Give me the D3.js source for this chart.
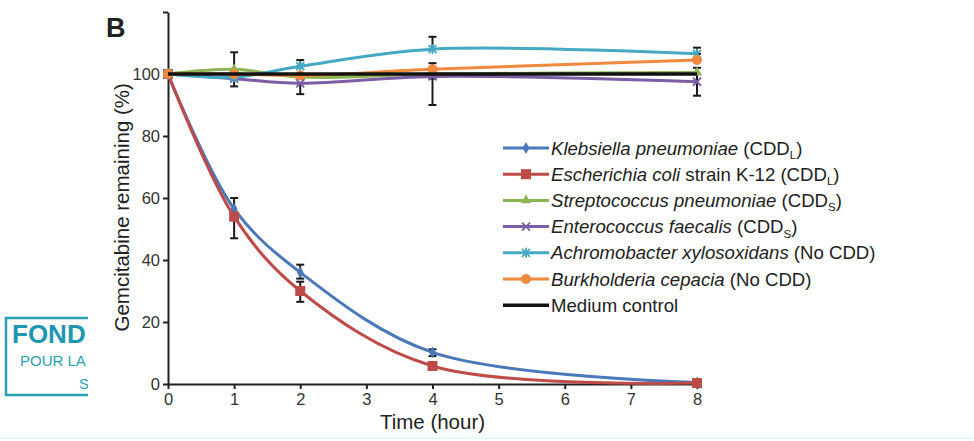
<!DOCTYPE html>
<html>
<head>
<meta charset="utf-8">
<script src="https://cdn.jsdelivr.net/npm/d3@7"></script>
<style>
  body { margin: 0; background: #fff; }
  svg { font-family: "Liberation Sans", Arial, sans-serif; }
</style>
</head>
<body>
<div id="chart"></div>
<script>
// Time points (hours)
const times = [0, 1, 2, 4, 8];

// Gemcitabine remaining (%) per strain, one value per time point
const klebsiella = [100, 56.5, 36, 10.2, 0.5];
const ecoli = [100, 54, 30, 5.8, 0.3];
const strepto = [100, 101.5, 99, 100, 100.5];
const entero = [100, 98.5, 97, 99.2, 97.5];
const achromo = [100, 99, 102.5, 108, 106.5];
const burkho = [100, 100, 99.5, 101.5, 104.5];
const medium = [100, 100, 100, 100, 100];

// Error bars: [time, low, high]
const errorBars = [
    [1, 53, 60], [1, 47, 54],
    [2, 34, 38.5], [2, 26.5, 33],
    [4, 9, 11.2],
    [1, 101.5, 107], [1, 96, 100],
    [2, 102.5, 104.5], [2, 93.5, 97],
    [4, 108, 112], [4, 90, 98.5], [4, 99, 103.5],
    [8, 106.5, 108.5], [8, 93, 100], [8, 100, 102]
];

const xTicks = [0, 1, 2, 3, 4, 5, 6, 7, 8];
const yTicks = [0, 20, 40, 60, 80, 100];

const series = [
    {name: "Klebsiella pneumoniae", rest: " (CDD", sub: "L", tail: ")", values: klebsiella, color: "#4a78b8", marker: "diamond"},
    {name: "Escherichia coli", rest: " strain K-12 (CDD", sub: "L", tail: ")", values: ecoli, color: "#be4b48", marker: "square"},
    {name: "Streptococcus pneumoniae", rest: " (CDD", sub: "S", tail: ")", values: strepto, color: "#8db556", marker: "triangle"},
    {name: "Enterococcus faecalis", rest: " (CDD", sub: "S", tail: ")", values: entero, color: "#7b5ea3", marker: "cross"},
    {name: "Achromobacter xylosoxidans", rest: " (No CDD)", sub: "", tail: "", values: achromo, color: "#45a9c4", marker: "star"},
    {name: "Burkholderia cepacia", rest: " (No CDD)", sub: "", tail: "", values: burkho, color: "#f0883e", marker: "circle"},
    {name: "", rest: "Medium control", sub: "", tail: "", values: medium, color: "#111", marker: "none"}
];

const width = 974, height = 441;
const svg = d3.select("#chart").append("svg")
    .attr("width", width)
    .attr("height", height);

// Cropped logo on the left edge
const logo = svg.append("g");
logo.append("rect")
    .attr("x", 6).attr("y", 318).attr("width", 120).attr("height", 77)
    .attr("fill", "none").attr("stroke", "#2b9fb6").attr("stroke-width", 2.5);
logo.append("text").attr("x", 12).attr("y", 343)
    .attr("font-size", 26).attr("font-weight", "bold").attr("fill", "#1f96b2").text("FOND");
logo.append("text").attr("x", 20).attr("y", 366)
    .attr("font-size", 15).attr("fill", "#2b9fb6").text("POUR LA");
logo.append("text").attr("x", 79).attr("y", 389)
    .attr("font-size", 15).attr("fill", "#2b9fb6").text("S");
svg.append("rect").attr("x", 88).attr("y", 300).attr("width", 80).attr("height", 110).attr("fill", "#fff");

// faint strip at the bottom
svg.append("rect").attr("x", 0).attr("y", 437).attr("width", width).attr("height", 2).attr("fill", "#e3f8f8");

const xScale = d3.scaleLinear().domain([0, 8]).range([168, 697]);
const yScale = d3.scaleLinear().domain([0, 120]).range([384, 12]);

// Axes
const xAxis = svg.append("g")
    .attr("transform", "translate(0," + yScale(0) + ")")
    .call(d3.axisBottom(xScale).tickValues(xTicks).tickSize(5).tickSizeOuter(0));
const yAxis = svg.append("g")
    .attr("transform", "translate(" + xScale(0) + ",0)")
    .call(d3.axisLeft(yScale).tickValues(yTicks.concat([120])).tickSize(5).tickSizeOuter(0)
        .tickFormat(d => d === 120 ? "" : d));
[xAxis, yAxis].forEach(a => {
    a.select(".domain").attr("stroke", "#222").attr("stroke-width", 2);
    a.selectAll(".tick line").attr("stroke", "#222").attr("stroke-width", 2);
    a.selectAll("text").attr("font-size", 16.5).attr("fill", "#333")
        .attr("font-family", "Liberation Sans, Arial, sans-serif");
});
xAxis.selectAll("text").attr("dy", "0.8em");
yAxis.selectAll("text").attr("x", -8);

// Axis labels
svg.append("text")
    .attr("x", xScale(4)).attr("y", 429)
    .attr("text-anchor", "middle").attr("font-size", 20.5).attr("fill", "#222")
    .text("Time (hour)");
svg.append("text")
    .attr("transform", "translate(129," + yScale(57) + ") rotate(-90)")
    .attr("text-anchor", "middle").attr("font-size", 20.5).attr("fill", "#222")
    .text("Gemcitabine remaining (%)");

svg.append("text").attr("x", 106).attr("y", 37)
    .attr("font-size", 27).attr("font-weight", "bold").attr("fill", "#222").text("B");

// Lines
const line = d3.line()
    .x((d, i) => xScale(times[i]))
    .y(d => yScale(d))
    .curve(d3.curveCatmullRom.alpha(0.5));

function drawMarker(g, type, color, x, y) {
    if (type === "none") return;
    if (type === "circle") {
        g.append("circle").attr("cx", x).attr("cy", y).attr("r", 5).attr("fill", color);
    } else if (type === "square") {
        g.append("rect").attr("x", x - 5).attr("y", y - 5).attr("width", 10).attr("height", 10).attr("fill", color);
    } else if (type === "diamond") {
        g.append("path").attr("d", d3.symbol(d3.symbolDiamond, 40)()).attr("transform", `translate(${x},${y})`).attr("fill", color);
    } else if (type === "triangle") {
        g.append("path").attr("d", d3.symbol(d3.symbolTriangle, 45)()).attr("transform", `translate(${x},${y})`).attr("fill", color);
    } else if (type === "cross") {
        g.append("path").attr("d", `M${x - 4},${y - 4}L${x + 4},${y + 4}M${x - 4},${y + 4}L${x + 4},${y - 4}`)
            .attr("stroke", color).attr("stroke-width", 1.8);
    } else if (type === "star") {
        g.append("path").attr("d", `M${x - 4},${y - 4}L${x + 4},${y + 4}M${x - 4},${y + 4}L${x + 4},${y - 4}M${x},${y - 5}L${x},${y + 5}`)
            .attr("stroke", color).attr("stroke-width", 1.8);
    }
}

// error bars behind the lines
const eb = svg.append("g").attr("stroke", "#1a1a1a").attr("stroke-width", 2);
errorBars.forEach(([t, lo, hi]) => {
    const x = xScale(t);
    eb.append("line").attr("x1", x).attr("x2", x).attr("y1", yScale(lo)).attr("y2", yScale(hi));
    eb.append("line").attr("x1", x - 4).attr("x2", x + 4).attr("y1", yScale(lo)).attr("y2", yScale(lo));
    eb.append("line").attr("x1", x - 4).attr("x2", x + 4).attr("y1", yScale(hi)).attr("y2", yScale(hi));
});

series.forEach(s => {
    const g = svg.append("g");
    g.append("path")
        .datum(s.values)
        .attr("d", line)
        .attr("fill", "none")
        .attr("stroke", s.color)
        .attr("stroke-width", s.marker === "none" ? 3.5 : 3);
    s.values.forEach((v, i) => drawMarker(g, s.marker, s.color, xScale(times[i]), yScale(v)));
});

// Legend
const legend = svg.append("g").attr("transform", "translate(503,148)");
series.forEach((s, i) => {
    const y = i * 26.2;
    const g = legend.append("g").attr("transform", "translate(0," + y + ")");
    g.append("line").attr("x1", 0).attr("x2", 46).attr("y1", 0).attr("y2", 0)
        .attr("stroke", s.color).attr("stroke-width", s.marker === "none" ? 3.5 : 3);
    drawMarker(g, s.marker, s.color, 23, 0);
    const t = g.append("text").attr("x", 48).attr("y", 6.5).attr("font-size", 18.6).attr("fill", "#222");
    if (s.name) t.append("tspan").attr("font-style", "italic").text(s.name);
    t.append("tspan").text(s.rest);
    if (s.sub) {
        t.append("tspan").attr("font-size", 11.5).attr("dy", 4.5).text(s.sub);
        t.append("tspan").attr("dy", -4.5).text(s.tail);
    }
});
</script>
</body>
</html>
